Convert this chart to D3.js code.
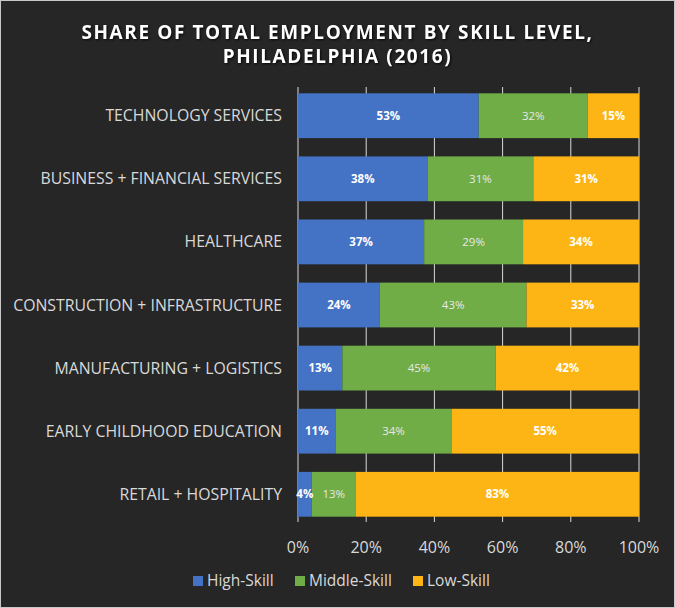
<!DOCTYPE html>
<html>
<head>
<meta charset="utf-8">
<script src="https://cdn.jsdelivr.net/npm/d3@7"></script>
<style>
  body { margin: 0; background: #262626; }
  text { font-family: "Open Sans", "Noto Sans", sans-serif; }
</style>
</head>
<body>
<div id="chart"></div>
<script>
const categories = [
  "TECHNOLOGY SERVICES",
  "BUSINESS + FINANCIAL SERVICES",
  "HEALTHCARE",
  "CONSTRUCTION + INFRASTRUCTURE",
  "MANUFACTURING + LOGISTICS",
  "EARLY CHILDHOOD EDUCATION",
  "RETAIL + HOSPITALITY"
];
const seriesNames = ["High-Skill", "Middle-Skill", "Low-Skill"];
const highSkill = [53, 38, 37, 24, 13, 11, 4];
const middleSkill = [32, 31, 29, 43, 45, 34, 13];
const lowSkill = [15, 31, 34, 33, 42, 55, 83];
const xTicks = [0, 20, 40, 60, 80, 100];

const colors = ["#4472C4", "#70AD47", "#FDB515"];

const width = 675, height = 608;
const margin = { top: 87, right: 36, bottom: 85, left: 298 };

const rows = categories.map((c, i) => ({
  category: c,
  "High-Skill": highSkill[i],
  "Middle-Skill": middleSkill[i],
  "Low-Skill": lowSkill[i]
}));

const stacked = d3.stack().keys(seriesNames)(rows);

const x = d3.scaleLinear().domain([0, 100]).range([margin.left, width - margin.right]);
const y = d3.scaleBand().domain(categories)
  .range([margin.top, height - margin.bottom])
  .paddingInner(0.29).paddingOuter(0.1);

const svg = d3.select("#chart")
  .append("svg")
  .attr("width", width)
  .attr("height", height);

svg.append("rect")
  .attr("x", 0.5).attr("y", 0.5)
  .attr("width", width - 1).attr("height", height - 1)
  .attr("fill", "#262626")
  .attr("stroke", "#c8c8c8");

// title
const title = svg.append("text")
  .attr("text-anchor", "middle")
  .attr("fill", "#ffffff")
  .attr("font-size", 19)
  .attr("font-weight", "bold")
  .attr("letter-spacing", 1.6)
  .style("filter", "drop-shadow(1px 1px 1px rgba(0,0,0,0.8))");
title.append("tspan").attr("x", width / 2).attr("y", 39).text("SHARE OF TOTAL EMPLOYMENT BY SKILL LEVEL,");
title.append("tspan").attr("x", width / 2).attr("y", 63).text("PHILADELPHIA (2016)");

// gridlines
svg.append("g")
  .selectAll("line")
  .data(xTicks)
  .join("line")
  .attr("x1", d => x(d)).attr("x2", d => x(d))
  .attr("y1", margin.top).attr("y2", height - margin.bottom - 1)
  .attr("stroke", "#d9d9d9")
  .attr("stroke-width", 1);

// bars
svg.append("g")
  .selectAll("g")
  .data(stacked)
  .join("g")
  .attr("fill", (d, i) => colors[i])
  .selectAll("rect")
  .data(d => d)
  .join("rect")
  .attr("x", d => x(d[0]))
  .attr("y", d => y(d.data.category))
  .attr("width", d => x(d[1]) - x(d[0]))
  .attr("height", y.bandwidth());

// value labels
svg.append("g")
  .selectAll("g")
  .data(stacked)
  .join("g")
  .each(function(s, si) {
    d3.select(this).selectAll("text")
      .data(s)
      .join("text")
      .attr("x", d => (x(d[0]) + x(d[1])) / 2)
      .attr("y", d => y(d.data.category) + y.bandwidth() / 2)
      .attr("dy", "0.35em")
      .attr("text-anchor", "middle")
      .attr("font-size", 11.5)
      .attr("font-weight", si === 1 ? "normal" : "bold")
      .attr("fill", si === 1 ? "#e8e8e8" : "#ffffff")
      .text(d => (d[1] - d[0]) + "%");
  });

// category labels
svg.append("g")
  .selectAll("text")
  .data(categories)
  .join("text")
  .attr("x", margin.left - 16)
  .attr("y", d => y(d) + y.bandwidth() / 2)
  .attr("dy", "0.35em")
  .attr("text-anchor", "end")
  .attr("font-size", 15.8)
  .attr("fill", "#d9d9d9")
  .text(d => d);

// x tick labels
svg.append("g")
  .selectAll("text")
  .data(xTicks)
  .join("text")
  .attr("x", d => x(d))
  .attr("y", 553)
  .attr("text-anchor", "middle")
  .attr("font-size", 16)
  .attr("fill", "#d9d9d9")
  .text(d => d + "%");

// legend
const legendX = [193, 295, 413];
const legend = svg.append("g")
  .selectAll("g")
  .data(seriesNames)
  .join("g")
  .attr("transform", (d, i) => `translate(${legendX[i]},581)`);
legend.append("rect")
  .attr("x", 0).attr("y", -5)
  .attr("width", 10).attr("height", 10)
  .attr("fill", (d, i) => colors[i]);
legend.append("text")
  .attr("x", 14).attr("y", 0)
  .attr("dy", "0.35em")
  .attr("font-size", 15.5)
  .attr("fill", "#d9d9d9")
  .text(d => d);
</script>
</body>
</html>
